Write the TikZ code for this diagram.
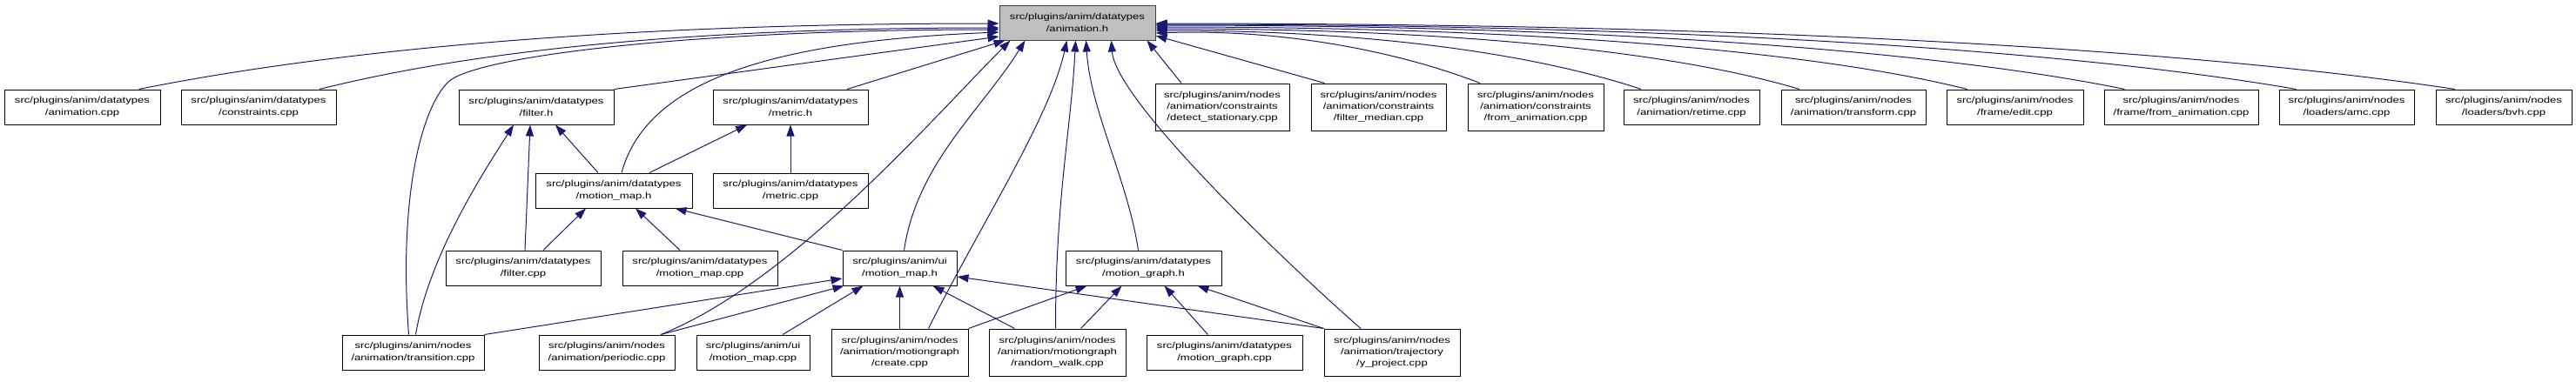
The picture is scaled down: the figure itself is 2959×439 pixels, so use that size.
\documentclass[tikz,border=0pt]{standalone}
\usepackage{fontspec}
\setmainfont{Liberation Sans}[FakeStretch=1.31]
\usetikzlibrary{arrows.meta}
\definecolor{edge}{HTML}{191970}
\definecolor{rootfill}{HTML}{BFBFBF}
\definecolor{rootline}{HTML}{404040}

\begin{document}
\begin{tikzpicture}[
  x=1pt,y=-1pt,
  font=\fontsize{10}{13.3}\selectfont,
  box/.style={draw=black,line width=1pt,fill=white,align=center,inner sep=0pt,
              minimum height=40pt},
  tall/.style={minimum height=54pt},
  rootbox/.style={box,fill=rootfill,draw=rootline},
  arr/.style={-{Triangle[length=13pt,width=9pt]},line width=1pt,draw=edge}]

\useasboundingbox (0,0) rectangle (2959,439);

% root header
\node[rootbox,minimum width=179pt] (animh) at (1237.5,26)
  {src/plugins/anim/datatypes\\/animation.h};

% first row
\node[box,minimum width=179pt] (anicpp) at (94.5,123) {src/plugins/anim/datatypes\\/animation.cpp};
\node[box,minimum width=178pt] (concpp) at (297,123) {src/plugins/anim/datatypes\\/constraints.cpp};
\node[box,minimum width=178pt] (filth) at (616,123) {src/plugins/anim/datatypes\\/filter.h};
\node[box,minimum width=178pt] (meth) at (908,123) {src/plugins/anim/datatypes\\/metric.h};
\node[box,tall,minimum width=154pt] (detst) at (1404,123)
  {src/plugins/anim/nodes\\/animation/constraints\\/detect\_stationary.cpp};
\node[box,tall,minimum width=155pt] (filtmed) at (1583.5,123)
  {src/plugins/anim/nodes\\/animation/constraints\\/filter\_median.cpp};
\node[box,tall,minimum width=156pt] (fromani) at (1764,123)
  {src/plugins/anim/nodes\\/animation/constraints\\/from\_animation.cpp};
\node[box,minimum width=156pt] (retime) at (1943,123) {src/plugins/anim/nodes\\/animation/retime.cpp};
\node[box,minimum width=166pt] (transform) at (2129,123) {src/plugins/anim/nodes\\/animation/transform.cpp};
\node[box,minimum width=157pt] (fedit) at (2314.5,123) {src/plugins/anim/nodes\\/frame/edit.cpp};
\node[box,minimum width=177pt] (ffrom) at (2505.5,123) {src/plugins/anim/nodes\\/frame/from\_animation.cpp};
\node[box,minimum width=155pt] (amc) at (2695.5,123) {src/plugins/anim/nodes\\/loaders/amc.cpp};
\node[box,minimum width=156pt] (bvh) at (2876,123) {src/plugins/anim/nodes\\/loaders/bvh.cpp};

% second row
\node[box,minimum width=180pt] (mmh) at (705,219) {src/plugins/anim/datatypes\\/motion\_map.h};
\node[box,minimum width=178pt] (metcpp) at (908,219) {src/plugins/anim/datatypes\\/metric.cpp};

% third row
\node[box,minimum width=178pt] (filtcpp) at (601,308) {src/plugins/anim/datatypes\\/filter.cpp};
\node[box,minimum width=178pt] (mmcpp) at (804,308) {src/plugins/anim/datatypes\\/motion\_map.cpp};
\node[box,minimum width=131pt] (uimmh) at (1033.5,308) {src/plugins/anim/ui\\/motion\_map.h};
\node[box,minimum width=179pt] (mgh) at (1313.5,308) {src/plugins/anim/datatypes\\/motion\_graph.h};

% bottom row
\node[box,minimum width=163pt] (trans) at (474.5,405) {src/plugins/anim/nodes\\/animation/transition.cpp};
\node[box,minimum width=156pt] (periodic) at (697,405) {src/plugins/anim/nodes\\/animation/periodic.cpp};
\node[box,minimum width=130pt] (uimmcpp) at (865,405) {src/plugins/anim/ui\\/motion\_map.cpp};
\node[box,tall,minimum width=157pt] (create) at (1033.5,405)
  {src/plugins/anim/nodes\\/animation/motiongraph\\/create.cpp};
\node[box,tall,minimum width=157pt] (rwalk) at (1214.5,405)
  {src/plugins/anim/nodes\\/animation/motiongraph\\/random\_walk.cpp};
\node[box,minimum width=179pt] (mgcpp) at (1406.5,405) {src/plugins/anim/datatypes\\/motion\_graph.cpp};
\node[box,tall,minimum width=156pt] (yproj) at (1599,405)
  {src/plugins/anim/nodes\\/animation/trajectory\\/y\_project.cpp};

% includes of animation.h, left side
\draw[arr] ([xshift=65pt]anicpp.north) .. controls +(250,-50) and +(-400,0) .. ([yshift=-1pt]animh.west);
\draw[arr] ([xshift=70pt]concpp.north) .. controls +(180,-45) and +(-350,0) .. ([yshift=-6pt]animh.west);
\draw[arr] ([xshift=-5pt]trans.north) .. controls +(-12,-160) and +(-30,30) .. ++(45,-290)
  .. controls +(30,-30) and +(-350,0) .. ([yshift=-8pt]animh.west);
\draw[arr] ([xshift=9pt]mmh.north) .. controls +(30,-110) and +(-250,10) .. ([yshift=-11pt]animh.west);
\draw[arr] (filth.north east) -- ([yshift=-16pt]animh.west);
\draw[arr] ([xshift=65pt]meth.north) -- ([xshift=7pt]animh.south west);
\draw[arr] ([xshift=62pt]periodic.north) .. controls +(150,-60) and +(-90,90) .. ([xshift=13pt]animh.south west);
\draw[arr] ([xshift=5pt]uimmh.north) .. controls +(15,-100) and +(-50,80) .. ([xshift=30pt]animh.south west);
\draw[arr] ([xshift=33pt]create.north) .. controls +(60,-120) and +(-20,90) .. ([xshift=78pt]animh.south west);
\draw[arr] ([xshift=-2pt]rwalk.north) .. controls +(0,-150) and +(-5,100) .. ([xshift=88pt]animh.south west);
\draw[arr] ([xshift=-6pt]mgh.north) .. controls +(-12,-80) and +(5,80) .. ([xshift=100pt]animh.south west);
\draw[arr] ([xshift=-36pt]yproj.north) .. controls +(-80,-70) and +(5,70) .. ([xshift=129pt]animh.south west);
\draw[arr] ([xshift=-47pt]detst.north) -- ([xshift=170pt]animh.south west);

% includes of animation.h, right side
\draw[arr] ([xshift=-62pt]filtmed.north) -- ([yshift=-15pt]animh.east);
\draw[arr] ([xshift=-64pt]fromani.north) .. controls +(-90,-35) and +(150,-5) .. ([yshift=-12pt]animh.east);
\draw[arr] ([xshift=-58pt]retime.north) .. controls +(-120,-40) and +(250,0) .. ([yshift=-9pt]animh.east);
\draw[arr] ([xshift=-62pt]transform.north) .. controls +(-150,-45) and +(330,0) .. ([yshift=-7pt]animh.east);
\draw[arr] ([xshift=-55pt]fedit.north) .. controls +(-180,-45) and +(420,0) .. ([yshift=-5pt]animh.east);
\draw[arr] ([xshift=-65pt]ffrom.north) .. controls +(-220,-45) and +(500,0) .. ([yshift=-3pt]animh.east);
\draw[arr] ([xshift=-58pt]amc.north) .. controls +(-260,-45) and +(600,0) .. ([yshift=-2pt]animh.east);
\draw[arr] ([xshift=-56pt]bvh.north) .. controls +(-300,-45) and +(700,0) .. ([yshift=-1pt]animh.east);

% filter.h and metric.h
\draw[arr] ([xshift=2pt]filtcpp.north) -- ([xshift=-7pt]filth.south);
\draw[arr] ([xshift=3pt]trans.north) .. controls +(15,-90) and +(-35,55) .. ([xshift=-26pt]filth.south);
\draw[arr] ([xshift=-18pt]mmh.north) -- ([xshift=22pt]filth.south);
\draw[arr] ([xshift=41pt]mmh.north) -- ([xshift=-50pt]meth.south);
\draw[arr] (metcpp) -- (meth);

% datatypes/motion_map.h
\draw[arr] ([xshift=23pt]filtcpp.north) -- ([xshift=-32pt]mmh.south);
\draw[arr] ([xshift=-23pt]mmcpp.north) -- ([xshift=25pt]mmh.south);
\draw[arr] (uimmh.north west) -- ([xshift=-20pt]mmh.south east);

% ui/motion_map.h
\draw[arr] (trans.north east) -- ([yshift=-12pt]uimmh.west);
\draw[arr] ([xshift=62pt]periodic.north) -- ([xshift=2pt]uimmh.south west);
\draw[arr] ([xshift=34pt]uimmcpp.north) -- ([xshift=24pt]uimmh.south west);
\draw[arr] (create) -- (uimmh);
\draw[arr] ([xshift=-49pt]rwalk.north) -- ([xshift=38pt]uimmh.south);
\draw[arr] (yproj.north west) -- ([yshift=-10pt]uimmh.east);

% motion_graph.h
\draw[arr] (create.north east) -- ([xshift=-65pt]mgh.south);
\draw[arr] ([xshift=27pt]rwalk.north) -- ([xshift=-25pt]mgh.south);
\draw[arr] ([xshift=-19pt]mgcpp.north) -- ([xshift=24pt]mgh.south);
\draw[arr] (yproj.north west) -- ([xshift=62pt]mgh.south);
\end{tikzpicture}
\end{document}
